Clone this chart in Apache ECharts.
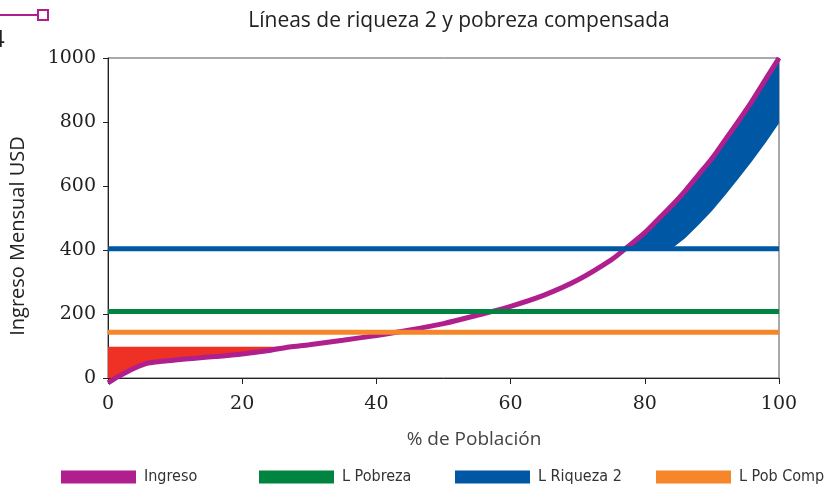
<!DOCTYPE html>
<html>
<head>
<meta charset="utf-8">
<script src="https://cdn.jsdelivr.net/npm/echarts@6/dist/echarts.min.js"></script>
<style>
  html, body { margin: 0; padding: 0; background: #fff; }
  #chart { width: 831px; height: 486px; }
</style>
</head>
<body>
<div id="chart"></div>
<script>
// % de población (x)
const pop = [0, 1, 2, 3, 4, 5, 6, 8, 10, 13, 16, 20, 24, 27, 30, 35, 40, 45, 50, 55, 60, 65, 70, 75, 77, 80, 82, 84, 86, 88, 90, 92, 94, 96, 98, 100];
// Ingreso mensual USD
const ingreso = [-15, -2, 10, 21, 31, 40, 47, 52, 56, 62, 67, 75, 86, 97, 104, 118, 133, 150, 170, 196, 224, 259, 306, 369, 402, 454, 496, 538, 584, 635, 686, 745, 804, 866, 933, 1000];
// lower edge of the blue band (from 77 % on)
const compPop = [77, 80, 82, 84, 86, 88, 90, 92, 94, 96, 98, 100];
const compensada = [300, 335, 365, 398, 437, 478, 522, 572, 624, 678, 735, 796];
// horizontal lines
const lPobreza = 208;
const lRiqueza2 = 404;
const lPobComp = 143;
const redTop = 98;      // top of red shaded area
const redEnd = 27;      // red shaded area ends here (% pop)
const xTicks = [0, 20, 40, 60, 80, 100];
const yTicks = [0, 200, 400, 600, 800, 1000];

const C = { ing: '#b01f8e', pob: '#00843f', riq: '#0058a4', comp: '#f5862a', red: '#ee3124' };

const redRows = pop.map((p, i) => [p, ingreso[i], redTop]).filter(r => r[0] <= redEnd);
const blueRows = compPop.map((p, k) => {
  const base = Math.max(lRiqueza2, compensada[k]);
  return [p, base, Math.max(base, ingreso[pop.indexOf(p)])];
});

const bandSeries = (rows, color) => ({
  type: 'custom', silent: true, clip: true, z: 1,
  data: rows,
  encode: { x: 0, y: [1, 2] },
  renderItem: (params, api) => {
    if (params.dataIndex !== 0) return;
    const top = rows.map(r => api.coord([r[0], Math.max(r[1], r[2])]));
    const bot = rows.map(r => api.coord([r[0], Math.min(r[1], r[2])])).reverse();
    return { type: 'polygon', shape: { points: top.concat(bot) }, style: { fill: color } };
  }
});

const labelFont = { fontFamily: 'DejaVu Serif', fontSize: 19, color: '#222' };
const chart = echarts.init(document.getElementById('chart'), null, { renderer: 'canvas' });

const hLine = (name, v, color) => ({
  type: 'line', name, color, data: [[0, v], [100, v]], symbol: 'none', z: 3,
  lineStyle: { color, width: 5 }, silent: true
});

chart.setOption({
  animation: false,
  title: {
    text: 'Líneas de riqueza 2 y pobreza compensada', left: 454, top: 6, textAlign: 'center',
    textStyle: { fontFamily: 'Open Sans', fontSize: 21, fontWeight: 'normal', color: '#222' }
  },
  graphic: [
    { type: 'line', shape: { x1: 0, y1: 15, x2: 38, y2: 15 }, style: { stroke: C.ing, lineWidth: 2 } },
    { type: 'rect', shape: { x: 38, y: 10, width: 10, height: 10 }, style: { stroke: C.ing, lineWidth: 2, fill: '#fff' } },
    { type: 'text', left: -9, top: 28, style: { text: '4', font: '24px Open Sans', fill: '#222' } },
    { type: 'text', x: 18, y: 236, rotation: Math.PI / 2,
      style: { text: 'Ingreso Mensual USD', font: '20px Open Sans', fill: '#222', align: 'center', verticalAlign: 'middle' } },
    { type: 'text', x: 474, y: 440,
      style: { text: '% de Población', font: '19px Open Sans', fill: '#444', align: 'center', verticalAlign: 'middle' } }
  ],
  grid: { left: 108, right: 52, top: 58, bottom: 108, show: true, borderColor: '#555', borderWidth: 1 },
  xAxis: {
    type: 'value', min: 0, max: 100, interval: 20,
    axisLine: { lineStyle: { color: '#222', width: 1 } },
    axisTick: { show: true, length: 6, lineStyle: { color: '#222' } },
    axisLabel: Object.assign({ margin: 17, formatter: v => xTicks.indexOf(v) >= 0 ? String(v) : '' }, labelFont),
    splitLine: { show: false }
  },
  yAxis: {
    type: 'value', min: 0, max: 1000, interval: 200,
    axisLine: { show: true, lineStyle: { color: '#222', width: 1 } },
    axisTick: { show: true, length: 5, lineStyle: { color: '#222' } },
    axisLabel: Object.assign({ margin: 12, formatter: v => yTicks.indexOf(v) >= 0 ? String(v) : '' }, labelFont),
    splitLine: { show: false }
  },
  legend: [
    ['Ingreso', 61], ['L Pobreza', 259], ['L Riqueza 2', 455], ['L Pob Comp', 656]
  ].map(([n, l]) => ({
    data: [n], left: l, top: 469, padding: 0, icon: 'rect', itemWidth: 75, itemHeight: 13, itemGap: 0,
    textStyle: { fontFamily: 'Liberation Sans Narrow, DejaVu Sans Condensed, Open Sans', fontSize: 16, color: '#333', padding: [0, 0, 0, 3] },
    selectedMode: false
  })),
  series: [
    bandSeries(redRows, C.red),
    bandSeries(blueRows, C.riq),
    { type: 'line', name: 'Ingreso', color: C.ing, symbol: 'none', smooth: 0.3, clip: false, z: 2,
      data: pop.map((p, i) => [p, ingreso[i]]), lineStyle: { color: C.ing, width: 5 } },
    hLine('L Pobreza', lPobreza, C.pob),
    hLine('L Riqueza 2', lRiqueza2, C.riq),
    hLine('L Pob Comp', lPobComp, C.comp)
  ]
});
</script>
</body>
</html>
